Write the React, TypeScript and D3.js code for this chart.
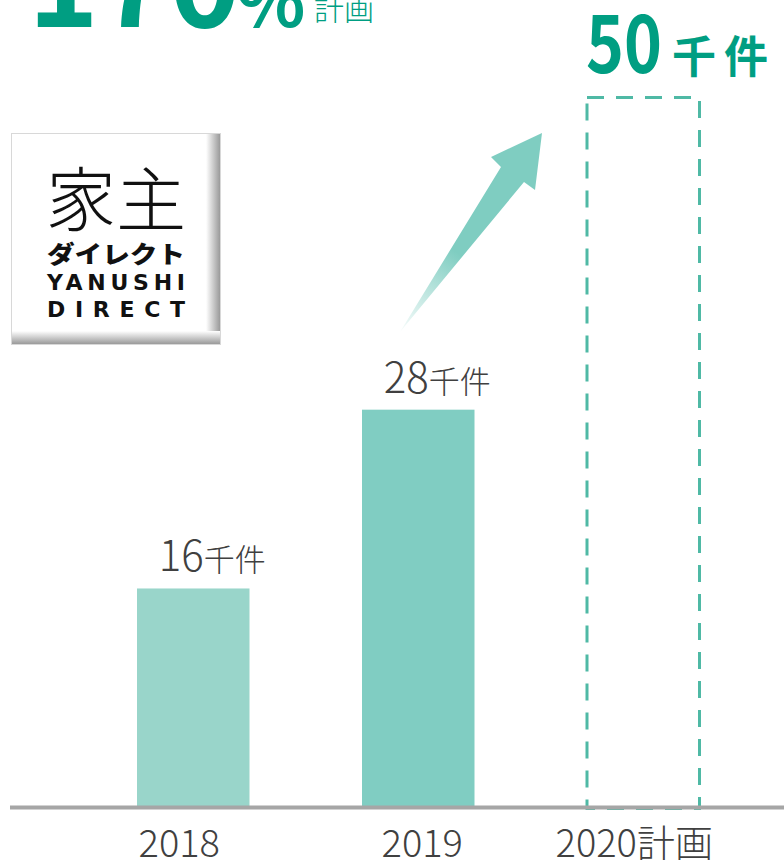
import React from "react";
import * as d3 from "d3";

const categories = ["2018", "2019", "2020計画"];
const values = [15.4, 28, 50];
const valueLabels = ["16", "28", "50"];
const unitLabel = "千件";
const isPlan = [false, false, true];
const headlineNumber = "170";
const headlineSuffix = "%";
const headlineNote = "計画";

const W = 784;
const H = 860;
const FONT = "'Noto Sans CJK JP', 'Noto Sans', sans-serif";
const GREEN = "#009e82";
const GRAY_TEXT = "#404040";

export default function App() {
  const x = d3
    .scaleBand<string>()
    .domain(categories)
    .range([80.75, 755.75])
    .paddingInner(0.5)
    .paddingOuter(0.25);
  const y = d3.scaleLinear().domain([0, 50]).range([807, 97.5]);
  const barColors = ["#99d5ca", "#80cdc2"];
  const labelDx = [-14, 4, -9];

  const arrowPts: [number, number][] = [
    [400, 332],
    [501, 167],
    [491, 157],
    [542, 133],
    [535, 190],
    [524, 182],
  ];
  const arrowPath = (d3.line()(arrowPts) || "") + "Z";

  return (
    <svg
      width={W}
      height={H}
      style={{ display: "block", position: "absolute", left: 0, top: 0 }}
      fontFamily={FONT}
    >
      <defs>
        <linearGradient id="arrowGrad" gradientUnits="userSpaceOnUse" x1={400} y1={332} x2={542} y2={133}>
          <stop offset="0" stopColor="#7fcdc1" stopOpacity={0.05} />
          <stop offset="0.4" stopColor="#7fcdc1" stopOpacity={1} />
          <stop offset="1" stopColor="#7fcdc1" stopOpacity={1} />
        </linearGradient>
        <linearGradient id="logoRight" x1="0" y1="0" x2="1" y2="0">
          <stop offset="0" stopColor="#ffffff" />
          <stop offset="1" stopColor="#9a9a9a" />
        </linearGradient>
        <linearGradient id="logoBottom" x1="0" y1="0" x2="0" y2="1">
          <stop offset="0" stopColor="#ffffff" />
          <stop offset="1" stopColor="#9a9a9a" />
        </linearGradient>
      </defs>
      <rect width={W} height={H} fill="#ffffff" />

      {/* headline, cut at top */}
      <text x={28} y={27} fontSize={120} fontWeight={700} fill={GREEN}>
        {headlineNumber}
      </text>
      <text x={236} y={27} fontSize={72} fontWeight={700} fill={GREEN}>
        {headlineSuffix}
      </text>
      <text x={314} y={20} fontSize={30} fontWeight={300} fill={GREEN}>
        {headlineNote}
      </text>

      {/* logo */}
      <g>
        <rect x={11.5} y={133.5} width={209} height={211} fill="#ffffff" stroke="#d8d8d8" strokeWidth={1} />
        <rect x={206} y={134} width={14} height={210} fill="url(#logoRight)" />
        <rect x={12} y={331} width={208} height={13} fill="url(#logoBottom)" />
        <text x={116} y={226} fontSize={70} fontWeight={300} textAnchor="middle" fill="#111">
          家主
        </text>
        <text x={47} y={263} fontSize={24} fontWeight={900} fill="#111" textLength={138} lengthAdjust="spacingAndGlyphs">
          ダイレクト
        </text>
        <text x={47} y={290} fontSize={22} fontWeight={700} fill="#111" textLength={138} lengthAdjust="spacing" fontFamily="'DejaVu Sans', sans-serif">
          YANUSHI
        </text>
        <text x={47} y={317} fontSize={22} fontWeight={700} fill="#111" textLength={138} lengthAdjust="spacing" fontFamily="'DejaVu Sans', sans-serif">
          DIRECT
        </text>
      </g>

      {/* arrow */}
      <path d={arrowPath} fill="url(#arrowGrad)" />

      {/* bars */}
      {categories.map((c, i) => {
        const x0 = x(c)!;
        const bw = x.bandwidth();
        if (isPlan[i]) {
          return (
            <rect
              key={c}
              x={x0}
              y={y(values[i])}
              width={bw}
              height={808.5 - y(values[i])}
              fill="none"
              stroke="#4fb9a5"
              strokeWidth={3}
              strokeDasharray="17 12"
            />
          );
        }
        return <rect key={c} x={x0} y={y(values[i])} width={bw} height={y(0) - y(values[i])} fill={barColors[i]} />;
      })}

      {/* value labels */}
      {categories.map((c, i) => {
        const cx = x(c)! + x.bandwidth() / 2;
        if (isPlan[i]) {
          return (
            <g key={c}>
              <text x={586} y={73} fontSize={80} fontWeight={700} fill={GREEN} textLength={76} lengthAdjust="spacingAndGlyphs">
                {valueLabels[i]}
              </text>
              <text x={672} y={73} fontSize={44} fontWeight={700} fill={GREEN} letterSpacing={8}>
                {unitLabel}
              </text>
            </g>
          );
        }
        return (
          <text key={c} x={cx + 19} y={y(values[i]) - 17} textAnchor="middle" fill={GRAY_TEXT} fontWeight={300}>
            <tspan fontSize={42}>{valueLabels[i]}</tspan>
            <tspan fontSize={31}>{unitLabel}</tspan>
          </text>
        );
      })}

      {/* axis line */}
      <line x1={10} x2={W} y1={807.5} y2={807.5} stroke="#a6a6a6" strokeWidth={4} />

      {/* category labels */}
      {categories.map((c, i) => (
        <text
          key={c}
          x={x(c)! + x.bandwidth() / 2 + labelDx[i]}
          y={857}
          textAnchor="middle"
          fontSize={38}
          fontWeight={300}
          fill={GRAY_TEXT}
        >
          {c}
        </text>
      ))}
    </svg>
  );
}
